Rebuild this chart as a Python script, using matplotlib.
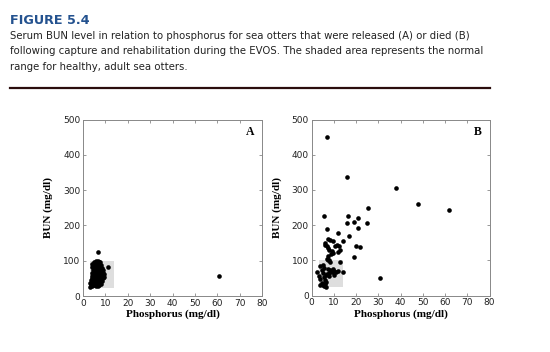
import matplotlib.pyplot as plt
from matplotlib.patches import Rectangle

# panel A: released otters (phosphorus mg/dl, BUN mg/dl)
a_phos = [3.0, 3.5, 4.2, 5.0, 5.8, 6.5, 7.2, 8.0,
          3.2, 4.0, 4.8, 5.5, 6.2, 7.0, 7.8, 8.5,
          3.5, 4.3, 5.1, 5.9, 6.6, 7.4, 8.2, 9.0,
          3.8, 4.6, 5.4, 6.2, 7.0, 7.8, 8.6, 9.4,
          4.0, 4.8, 5.6, 6.4, 7.2, 8.0, 8.8, 9.6,
          4.2, 5.0, 5.8, 6.6, 7.4, 8.2, 9.0,
          4.5, 5.3, 6.1, 6.9, 7.7, 8.5,
          4.0, 4.8, 5.6, 6.4, 7.2, 8.0,
          3.8, 4.6, 5.4, 6.2, 7.0,
          5.0, 5.8, 6.6, 7.4,
          6.5, 11.0, 61.0]
a_bun = [25, 30, 28, 30, 27, 29, 31, 33,
         38, 36, 35, 37, 35, 38, 40, 42,
         45, 43, 44, 42, 45, 47, 48, 50,
         52, 50, 52, 51, 53, 55, 57, 55,
         58, 60, 58, 60, 62, 63, 65, 62,
         66, 68, 65, 68, 70, 72, 73,
         74, 76, 73, 77, 78, 80,
         82, 84, 82, 85, 86, 88,
         90, 92, 90, 93, 95,
         97, 99, 100, 97,
         125, 83, 58]

# panel B: otters that died
b_phos = [4.0, 5.0, 5.5, 4.5, 5.0, 3.5, 4.0, 5.5, 6.5, 7.0, 8.0, 9.0, 10.0, 8.5,
          7.5, 6.0, 6.5, 4.5, 5.0, 5.5, 6.0, 4.0, 6.5, 7.5, 8.5, 9.5, 11.0, 2.5,
          12.0, 14.0, 13.0, 8.0, 10.0,
          7.5, 8.5, 9.5, 6.0, 6.2, 7.0, 7.5, 8.0, 9.0, 9.5, 8.8, 7.5, 7.0, 8.0,
          10.5, 12.5, 13.0, 12.0, 11.5, 14.0,
          5.6, 7.0, 12.0, 17.0, 16.0, 16.5, 19.0, 21.0, 21.0, 25.0, 25.5,
          19.0, 20.0, 22.0, 31.0, 16.0, 7.0, 38.0, 48.0, 62.0]
b_bun = [83, 86, 78, 72, 65, 55, 48, 52, 58, 62, 65, 68, 70, 72,
         75, 45, 40, 35, 30, 28, 32, 30, 25, 100, 97, 75, 68, 67,
         69, 67, 95, 55, 60,
         160, 157, 155, 150, 143, 140, 135, 130, 127, 122, 118, 112, 104, 100,
         140, 140, 130, 125, 145, 155,
         225, 190, 177, 170, 206, 225, 210, 220, 191, 205, 250,
         110, 140, 137, 50, 336, 450, 307, 261, 243]

# normal range for healthy adults
norm_phos = (3.3, 14.0)
norm_bun = (24, 100)

fig = plt.figure(figsize=(5.5, 3.52), dpi=100)

fig.text(10/550, 1 - 20/352, 'FIGURE 5.4', fontsize=9.2, fontweight='bold',
         color='#24528f', va='center', family='DejaVu Sans')
caption = ['Serum BUN level in relation to phosphorus for sea otters that were released (A) or died (B)',
           'following capture and rehabilitation during the EVOS. The shaded area represents the normal',
           'range for healthy, adult sea otters.']
for i, line in enumerate(caption):
    fig.text(10/550, 1 - (36 + 15.5*i)/352, line, fontsize=7.3, color='#222222',
             va='center', family='DejaVu Sans')
fig.add_artist(plt.Line2D([10/550, 490/550], [1 - 87.5/352, 1 - 87.5/352],
                          color='#2b0d0d', lw=1.6))

boxes = [[83/550, 1 - 296/352, 179/550, 176.5/352],
         [311.5/550, 1 - 295.7/352, 178/550, 176.2/352]]
panels = [(a_phos, a_bun, 'A'), (b_phos, b_bun, 'B')]

for box, (px, py, tag) in zip(boxes, panels):
    ax = fig.add_axes(box)
    ax.add_patch(Rectangle((norm_phos[0], norm_bun[0]), norm_phos[1] - norm_phos[0],
                           norm_bun[1] - norm_bun[0], color='#dedede', lw=0, zorder=1))
    ax.scatter(px, py, s=11, color='black', lw=0, zorder=3)
    ax.set_xlim(0, 80)
    ax.set_ylim(0, 500)
    ax.set_xticks(range(0, 81, 10))
    ax.set_yticks(range(0, 501, 100))
    ax.tick_params(direction='in', length=2.5, width=0.6, top=True, right=True,
                   labelsize=6.5, colors='#888888', labelcolor='#222222', pad=2)
    for s in ax.spines.values():
        s.set_color('#888888')
        s.set_linewidth(0.7)
    ax.set_xlabel('Phosphorus (mg/dl)', fontsize=8, fontweight='bold',
                  family='Liberation Serif', labelpad=1.5)
    ax.set_ylabel('BUN (mg/dl)', fontsize=8, fontweight='bold',
                  family='Liberation Serif', labelpad=7)
    ax.text(0.955, 0.93, tag, transform=ax.transAxes, fontsize=8.5, fontweight='bold',
            family='Liberation Serif', ha='right', va='center')

fig.savefig('out.png', dpi=100)
